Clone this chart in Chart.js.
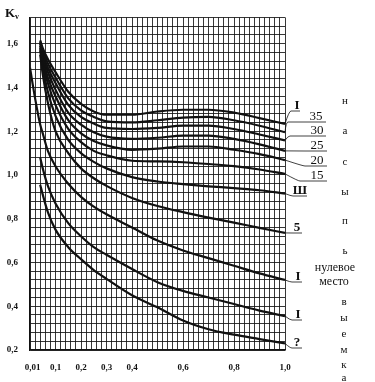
<!DOCTYPE html>
<html>
<head>
<meta charset="utf-8">
<script src="https://cdn.jsdelivr.net/npm/chart.js@4.4.1/dist/chart.umd.min.js"></script>
<style>
  html, body { margin: 0; padding: 0; background: #fff; }
  #wrap { width: 375px; height: 382px; position: relative; }
</style>
</head>
<body>
<div id="wrap"><canvas id="mycanvas" width="375" height="382"></canvas></div>
<script>
// x positions shared by all curves (null = curve not drawn there)
var xs = [0, 0.02, 0.04, 0.05, 0.07, 0.1, 0.15, 0.2, 0.25, 0.3, 0.4, 0.5, 0.6, 0.7, 0.8, 0.9, 1.0];

var kI   = [null, null, 1.615, 1.58, 1.53, 1.47, 1.38, 1.325, 1.29, 1.275, 1.275, 1.29, 1.298, 1.298, 1.285, 1.26, 1.233];
var k35  = [null, null, 1.61, 1.57, 1.51, 1.445, 1.35, 1.295, 1.265, 1.245, 1.24, 1.25, 1.262, 1.265, 1.25, 1.225, 1.195];
var k30  = [null, null, 1.605, 1.555, 1.49, 1.42, 1.32, 1.265, 1.235, 1.215, 1.21, 1.215, 1.225, 1.225, 1.21, 1.185, 1.158];
var k25  = [null, null, 1.60, 1.54, 1.47, 1.39, 1.285, 1.23, 1.195, 1.175, 1.165, 1.17, 1.18, 1.18, 1.165, 1.14, 1.11];
var k20  = [null, null, 1.59, 1.525, 1.445, 1.36, 1.25, 1.19, 1.155, 1.135, 1.115, 1.12, 1.13, 1.13, 1.115, 1.095, 1.068];
var k15  = [null, null, 1.58, 1.51, 1.42, 1.32, 1.21, 1.15, 1.11, 1.09, 1.065, 1.062, 1.058, 1.05, 1.04, 1.025, 1.005];
var kIII = [null, null, 1.57, 1.49, 1.38, 1.27, 1.16, 1.10, 1.06, 1.03, 0.99, 0.97, 0.958, 0.948, 0.94, 0.93, 0.915];
var k5   = [null, null, 1.55, 1.46, 1.33, 1.20, 1.10, 1.03, 0.985, 0.95, 0.895, 0.858, 0.83, 0.805, 0.782, 0.758, 0.735];
var kIa  = [1.49, 1.35, 1.23, 1.19, 1.11, 1.04, 0.96, 0.90, 0.855, 0.82, 0.76, 0.70, 0.655, 0.62, 0.585, 0.55, 0.52];
var kIb  = [null, null, 1.08, 1.03, 0.95, 0.87, 0.78, 0.72, 0.67, 0.635, 0.57, 0.51, 0.47, 0.44, 0.41, 0.38, 0.355];
var kQ   = [null, null, 0.955, 0.91, 0.83, 0.75, 0.67, 0.615, 0.565, 0.525, 0.45, 0.395, 0.335, 0.295, 0.27, 0.25, 0.23];

var curveLabels = ['I', '35', '30', '25', '20', '15', 'Ш', '5', 'I', 'I', '?'];
var series = [kI, k35, k30, k25, k20, k15, kIII, k5, kIa, kIb, kQ];

var xTickVals = [0.01, 0.1, 0.2, 0.3, 0.4, 0.6, 0.8, 1.0];
var xTickText = ['0,01', '0,1', '0,2', '0,3', '0,4', '0,6', '0,8', '1,0'];
var yTickVals = [0.2, 0.4, 0.6, 0.8, 1.0, 1.2, 1.4, 1.6];
var yTickText = ['0,2', '0,4', '0,6', '0,8', '1,0', '1,2', '1,4', '1,6'];

// label placement: [leader end x, underline y, text centre x, underline end x]
var labelPlace = [
  [291, 111, 297, 300],
  [288, 122, 316, 326],
  [290, 136, 317, 326],
  [305, 151, 317, 327],
  [305, 166, 317, 327],
  [300, 181, 317, 327],
  [293, 196, 300, 307],
  [293, 233, 297, 302],
  [292, 282, 298, 302],
  [292, 320, 298, 302],
  [292, 348, 297, 302]
];

function near(a, b) { return Math.abs(a - b) < 1e-6; }

var datasets = [];
for (var s = 0; s < series.length; s++) {
  var pts = [];
  for (var i = 0; i < xs.length; i++) {
    if (series[s][i] !== null) pts.push({x: xs[i], y: series[s][i]});
  }
  datasets.push({
    label: curveLabels[s],
    data: pts,
    borderColor: '#111',
    borderWidth: 2.2,
    pointRadius: 0,
    fill: false,
    cubicInterpolationMode: 'monotone'
  });
}

var textPlugin = {
  id: 'texts',
  afterDraw: function(chart) {
    var c = chart.ctx;
    var xsc = chart.scales.x, ysc = chart.scales.y;
    c.save();
    c.fillStyle = '#111';
    c.strokeStyle = '#111';
    // K_v
    c.font = 'bold 13px "Liberation Serif"';
    c.textAlign = 'left';
    c.textBaseline = 'alphabetic';
    c.fillText('K', 5, 17);
    c.font = 'bold 8px "Liberation Serif"';
    c.fillText('v', 15, 19);

    // curve labels with leaders
    c.lineWidth = 0.8;
    for (var s = 0; s < series.length; s++) {
      var arr = series[s];
      var ex = xsc.getPixelForValue(xs[xs.length - 1]);
      var ey = ysc.getPixelForValue(arr[arr.length - 1]);
      var p = labelPlace[s];
      c.beginPath();
      c.moveTo(ex, ey);
      c.quadraticCurveTo(p[0] - 2, p[1], p[0], p[1]);
      c.lineTo(p[3], p[1]);
      c.stroke();
      c.font = (curveLabels[s].length > 1 ? '' : 'bold ') + '13px "Liberation Serif"';
      c.textAlign = 'center';
      c.fillText(curveLabels[s], p[2], p[1] - 2);
    }

    // right side words
    c.font = '11px "Liberation Serif"';
    c.textAlign = 'center';
    var top = ['н', 'а', 'с', 'ы', 'п', 'ь'];
    var topY = [104, 134, 165, 195, 224, 254];
    for (var i = 0; i < top.length; i++) c.fillText(top[i], 345, topY[i]);
    c.font = '12px "Liberation Serif"';
    c.fillText('нулевое', 335, 271);
    c.fillText('место', 334, 285);
    c.font = '11px "Liberation Serif"';
    var bot = ['в', 'ы', 'е', 'м', 'к', 'а'];
    var botY = [305, 321, 337, 353, 368, 381];
    for (var j = 0; j < bot.length; j++) c.fillText(bot[j], 344, botY[j]);
    c.restore();
  }
};

var ctx = document.getElementById('mycanvas');
var chart = new Chart(ctx, {
  type: 'line',
  data: { datasets: datasets },
  options: {
    responsive: false,
    animation: false,
    layout: { padding: { top: 6, right: 90, left: 0, bottom: 0 } },
    plugins: { legend: { display: false }, tooltip: { enabled: false } },
    scales: {
      x: {
        type: 'linear',
        min: 0,
        max: 1,
        afterBuildTicks: function(scale) {
          var t = [{value: 0.01}];
          for (var k = 0; k <= 50; k++) t.push({value: Math.round(k * 2) / 100});
          scale.ticks = t;
        },
        afterFit: function(scale) { scale.height = 32; },
        grid: {
          drawTicks: false,
          color: function(c) { return near(c.tick.value, 0.01) ? 'rgba(0,0,0,0)' : 'rgba(20,20,20,0.85)'; },
          lineWidth: 1
        },
        border: { display: true, color: '#111', width: 1.5 },
        ticks: {
          autoSkip: false,
          maxRotation: 0,
          padding: 12,
          color: '#111',
          font: { family: '"Liberation Serif"', size: 9, weight: 'bold' },
          callback: function(v) {
            for (var i = 0; i < xTickVals.length; i++) if (near(v, xTickVals[i])) return xTickText[i];
            return '';
          }
        }
      },
      y: {
        type: 'linear',
        min: 0.2,
        max: 1.72,
        afterBuildTicks: function(scale) {
          var t = [];
          for (var k = 0; k <= 38; k++) t.push({value: Math.round((0.2 + k * 0.04) * 100) / 100});
          scale.ticks = t;
        },
        afterFit: function(scale) { scale.width = 30; },
        grid: { drawTicks: false, color: 'rgba(20,20,20,0.85)', lineWidth: 1 },
        border: { display: true, color: '#111', width: 1.5 },
        ticks: {
          autoSkip: false,
          padding: 12,
          color: '#111',
          font: { family: '"Liberation Serif"', size: 9, weight: 'bold' },
          callback: function(v) {
            for (var i = 0; i < yTickVals.length; i++) if (near(v, yTickVals[i])) return yTickText[i];
            return '';
          }
        }
      }
    }
  },
  plugins: [textPlugin]
});
</script>
</body>
</html>
